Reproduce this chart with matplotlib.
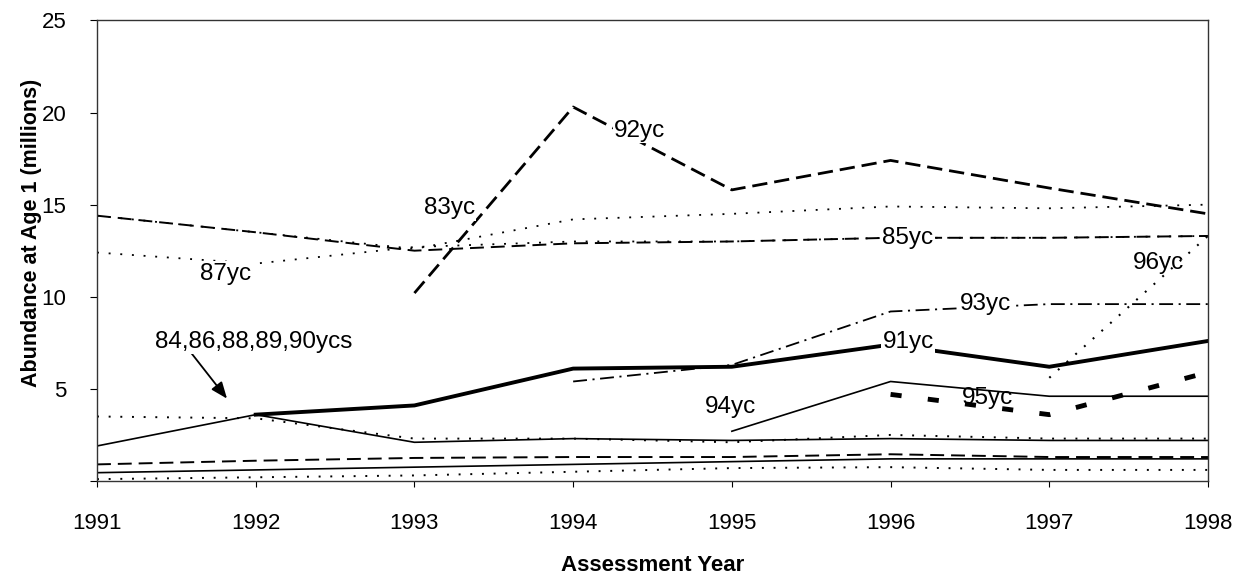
import numpy as np
import matplotlib.pyplot as plt

plt.rcParams['font.family'] = ['Liberation Sans', 'DejaVu Sans']
plt.rcParams['lines.scale_dashes'] = False

years = [1991, 1992, 1993, 1994, 1995, 1996, 1997, 1998]

# year classes present in every assessment
yc83 = [14.4, 13.5, 12.6, 14.2, 14.5, 14.9, 14.8, 15.0]
yc85 = [14.4, 13.5, 12.5, 12.9, 13.0, 13.2, 13.2, 13.3]
yc87 = [12.4, 11.8, 12.7, 13.0, 13.0, 13.2, 13.2, 13.3]
yc84 = [3.5, 3.4, 2.3, 2.3, 2.1, 2.5, 2.3, 2.3]
yc86 = [1.9, 3.6, 2.1, 2.3, 2.2, 2.3, 2.2, 2.2]
yc88 = [0.9, 1.1, 1.25, 1.3, 1.3, 1.45, 1.3, 1.3]
yc89 = [0.45, 0.6, 0.75, 0.9, 1.05, 1.2, 1.2, 1.2]
yc90 = [0.1, 0.2, 0.3, 0.5, 0.7, 0.75, 0.6, 0.6]

# year classes that enter later
yc91_years = [1992, 1993, 1994, 1995, 1996, 1997, 1998]
yc91 = [3.6, 4.1, 6.1, 6.2, 7.4, 6.2, 7.6]
yc92_years = [1993, 1994, 1995, 1996, 1997, 1998]
yc92 = [10.2, 20.3, 15.8, 17.4, 15.9, 14.5]
yc93_years = [1994, 1995, 1996, 1997, 1998]
yc93 = [5.4, 6.3, 9.2, 9.6, 9.6]
yc94_years = [1995, 1996, 1997, 1998]
yc94 = [2.7, 5.4, 4.6, 4.6]
yc95_years = [1996, 1997, 1998]
yc95 = [4.7, 3.6, 5.9]
yc96_years = [1997, 1998]
yc96 = [5.6, 13.3]

LDASH = (0, (10, 5))
DOT = (0, (1.4, 7))

fig = plt.figure(figsize=(12.5, 5.83), dpi=100)
ax = fig.add_axes([0.0776, 0.175, 0.8888, 0.79])

k = dict(color='black')
ax.plot(years, yc83, linestyle=DOT, lw=1.3, **k)
ax.plot(years, yc85, linestyle=LDASH, lw=1.4, **k)
ax.plot(years, yc87, linestyle=DOT, lw=1.3, **k)
ax.plot(years, yc84, linestyle=DOT, lw=1.4, **k)
ax.plot(years, yc86, linestyle='-', lw=1.2, **k)
ax.plot(years, yc88, linestyle=LDASH, lw=1.4, **k)
ax.plot(years, yc89, linestyle='-', lw=1.2, **k)
ax.plot(years, yc90, linestyle=DOT, lw=1.4, **k)

ax.plot(yc91_years, yc91, linestyle='-', lw=2.8, **k)
ax.plot(yc92_years, yc92, linestyle=(0, (11, 5)), lw=2.0, **k)
ax.plot(yc93_years, yc93, linestyle=(0, (10, 4, 1.5, 4)), lw=1.3, **k)
ax.plot(yc94_years, yc94, linestyle='-', lw=1.2, **k)
ax.plot(yc95_years, yc95, linestyle=(0, (8, 19)), lw=3.5, **k)
ax.plot(yc96_years, yc96, linestyle=DOT, lw=1.5, **k)

bb = dict(facecolor='white', edgecolor='none', pad=1)
lab = dict(fontsize=17.5, ha='center', va='center', zorder=5)
ax.text(1993.22, 14.8, '83yc', bbox=bb, **lab)
ax.text(1994.42, 19.0, '92yc', bbox=bb, **lab)
ax.text(1991.81, 11.25, '87yc', bbox=bb, **lab)
ax.text(1996.11, 13.2, '85yc', bbox=bb, **lab)
ax.text(1997.69, 11.85, '96yc', **lab)
ax.text(1996.6, 9.6, '93yc', bbox=bb, **lab)
ax.text(1996.11, 7.55, '91yc', bbox=bb, **lab)
ax.text(1996.61, 4.5, '95yc', **lab)
ax.text(1994.99, 4.0, '94yc', bbox=bb, **lab)
ax.text(1991.99, 7.55, '84,86,88,89,90ycs', bbox=bb, **lab)
ax.annotate('', xy=(1991.83, 4.35), xytext=(1991.58, 7.1),
            arrowprops=dict(arrowstyle='-|>,head_length=1.0,head_width=0.4',
                            color='black', lw=1.3))

ax.set_xlim(1991, 1998)
ax.set_ylim(0, 25)
ax.set_xticks(years)
ax.set_xticklabels([str(y) for y in years])
ax.set_yticks([0, 5, 10, 15, 20, 25])
ax.set_yticklabels(['', '5', '10', '15', '20', '25'])
ax.tick_params(axis='x', labelsize=16, length=4, pad=19)
ax.tick_params(axis='y', labelsize=16, length=5, pad=17)
for s in ax.spines.values():
    s.set_linewidth(1.0)
    s.set_color('#333333')

fig.text(0.522, 0.03, 'Assessment Year', fontsize=16, fontweight='bold',
         ha='center', va='center')
fig.text(0.025, 0.6, 'Abundance at Age 1 (millions)', fontsize=15.5,
         fontweight='bold', rotation=90, ha='center', va='center')

fig.savefig('out.png', dpi=100)
